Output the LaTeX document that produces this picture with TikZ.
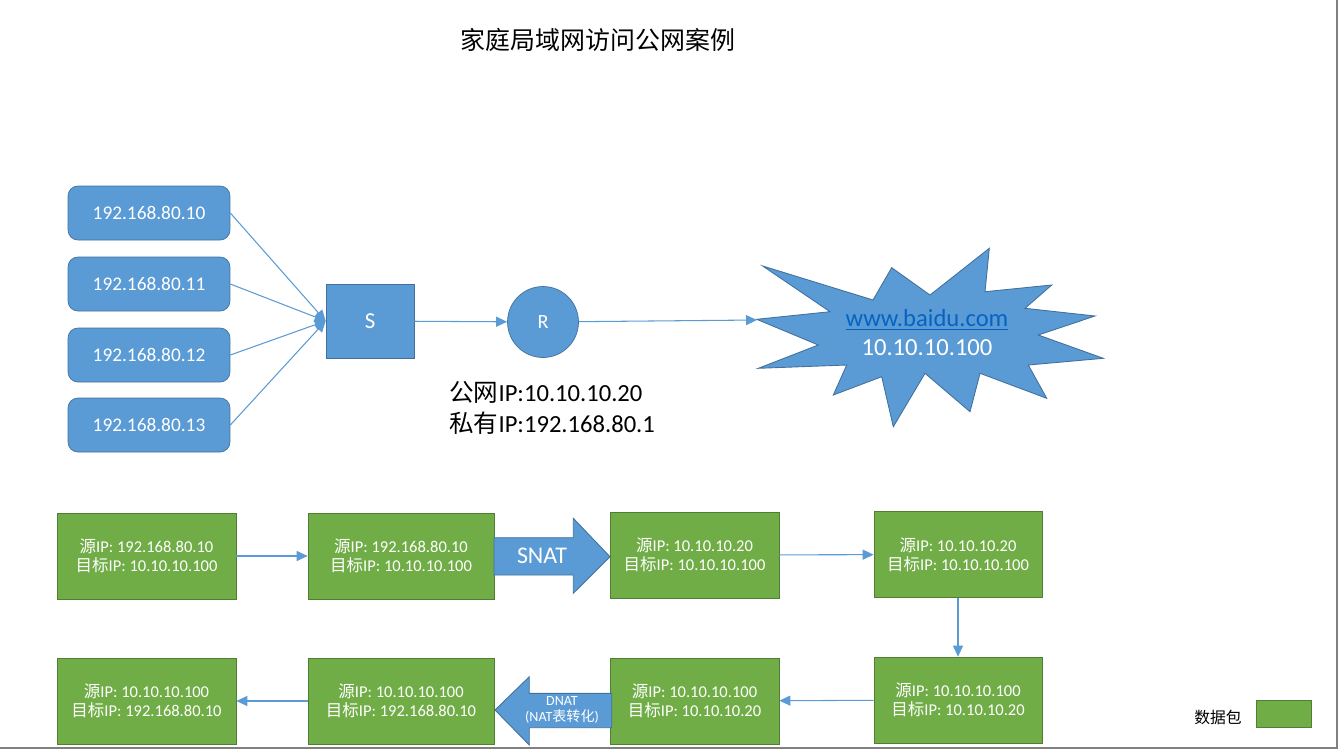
\documentclass[tikz,border=0pt]{standalone}
\usepackage{fontspec}
\setmainfont{Carlito}
\newfontfamily\cjk{Noto Sans CJK SC}
\usetikzlibrary{arrows.meta,positioning}

\definecolor{nodeblue}{HTML}{5B9BD5}
\definecolor{edgeblue}{HTML}{41719C}
\definecolor{pktgreen}{HTML}{70AD47}
\definecolor{pktedge}{HTML}{507E32}
\definecolor{linkblue}{HTML}{0563C1}

\tikzset{
	host/.style={draw=edgeblue, fill=nodeblue, rounded corners=0.2cm, minimum width=3.24cm, minimum height=1.08cm, text=white, font=\fontsize{11}{13}\selectfont},
	switchbox/.style={draw=edgeblue, fill=nodeblue, minimum width=1.76cm, minimum height=1.48cm, text=white, font=\fontsize{13}{15}\selectfont},
	router/.style={draw=edgeblue, fill=nodeblue, circle, minimum size=1.42cm, inner sep=0pt, text=white, font=\fontsize{11.5}{13}\selectfont},
	pkt/.style={draw=pktedge, fill=pktgreen, minimum height=1.72cm, align=center, text=white, font=\fontsize{9.4}{10.8}\selectfont},
	link/.style={draw=nodeblue, line width=0.6pt, -{Triangle[length=2.2mm, width=2mm]}},
	bigarrow/.style={draw=edgeblue, fill=nodeblue, line width=0.5pt}
}

\begin{document}
\begin{tikzpicture}[x=0.02cm, y=-0.02cm]
	\useasboundingbox (0,0) rectangle (1338,751);
	\draw[gray, line width=1pt] (1337,0) -- (1337,748) -- (0,748);

	% title
	\node[font=\cjk\fontsize{14.2}{16}\selectfont] (title) at (598,40) {家庭局域网访问公网案例};

	% hosts, switch and router
	\node[host] (h0) at (149,213) {192.168.80.10};
	\node[host] (h1) at (149,284) {192.168.80.11};
	\node[host] (h2) at (149,355) {192.168.80.12};
	\node[host] (h3) at (149,425) {192.168.80.13};
	\node[switchbox] (S) at (370,321) {S};
	\node[router] (R) at (543,322) {R};
	\foreach \i in {0,...,3}
		\draw[link] (h\i.east) -- (S.west);
	\draw[link] (S) -- (R);
	\node[anchor=north west, align=left, inner sep=0pt, font=\fontsize{14}{17.6}\selectfont] (rinfo) at (449,381)
		{{\cjk 公网}IP:10.10.10.20\\{\cjk 私有}IP:192.168.80.1};

	% internet
	\draw[draw=edgeblue, fill=nodeblue, line width=0.5pt]
		(762.7,266) -- (873,300) -- (891.7,267.7) -- (930,295) -- (989.3,248.3) -- (985,291.7)
		-- (1051.7,285) -- (1025,308.3) -- (1095,316) -- (1038.3,335) -- (1103.3,358.3)
		-- (1028.3,365) -- (1046.7,398.3) -- (980,373.3) -- (970,411.7) -- (925,373.3)
		-- (893.3,426.7) -- (881.7,376.7) -- (833.3,395) -- (846.7,365) -- (758.3,368.3)
		-- (818.3,345) -- (756.7,319.3) -- (830,311.7) -- cycle;
	\coordinate (web) at (757,320);
	\node[align=center, font=\fontsize{14}{16.5}\selectfont] (site) at (927,333)
		{\textcolor{linkblue}{\underline{www.baidu.com}}\\\textcolor{white}{10.10.10.100}};
	\draw[link] (R) -- (web);

	% packets, request
	\node[pkt, minimum width=3.58cm] (p1) at (146.5,556) {{\cjk 源}IP: 192.168.80.10\\{\cjk 目标}IP: 10.10.10.100};
	\node[pkt, minimum width=3.72cm] (p2) at (401,556) {{\cjk 源}IP: 192.168.80.10\\{\cjk 目标}IP: 10.10.10.100};
	\node[pkt, minimum width=3.38cm] (p3) at (694.5,555) {{\cjk 源}IP: 10.10.10.20\\{\cjk 目标}IP: 10.10.10.100};
	\node[pkt, minimum width=3.36cm] (p4) at (958,554.5) {{\cjk 源}IP: 10.10.10.20\\{\cjk 目标}IP: 10.10.10.100};

	% packets, reply
	\node[pkt, minimum width=3.58cm] (q1) at (146.5,701) {{\cjk 源}IP: 10.10.10.100\\{\cjk 目标}IP: 192.168.80.10};
	\node[pkt, minimum width=3.72cm] (q2) at (401,701) {{\cjk 源}IP: 10.10.10.100\\{\cjk 目标}IP: 192.168.80.10};
	\node[pkt, minimum width=3.38cm] (q3) at (694.5,701) {{\cjk 源}IP: 10.10.10.100\\{\cjk 目标}IP: 10.10.10.20};
	\node[pkt, minimum width=3.36cm] (q4) at (958,700) {{\cjk 源}IP: 10.10.10.100\\{\cjk 目标}IP: 10.10.10.20};

	\draw[link] (p1) -- (p2);
	\draw[link] (p3) -- (p4);
	\draw[link] (p4) -- (q4);
	\draw[link] (q4) -- (q3);
	\draw[link] (q2) -- (q1);

	% nat arrows
	\draw[bigarrow] (494,537.7) -- (573.3,537.7) -- (573.3,518.3) -- (610,556.7) -- (573.3,593.3) -- (573.3,575) -- (494,575) -- cycle;
	\node[text=white, font=\fontsize{13.6}{15}\selectfont] (snat) at (542,556) {SNAT};
	\draw[bigarrow] (611.7,693.3) -- (529.3,693.3) -- (529.3,676.7) -- (495,710) -- (529.3,745) -- (529.3,727.7) -- (611.7,727.7) -- cycle;
	\node[align=center, inner sep=0pt, text=white, font=\fontsize{8}{9}\selectfont] (dnat) at (562,710)
		{DNAT\\(NAT{\cjk 表转化})};

	% legend
	\node[font=\cjk\fontsize{9}{11}\selectfont] (legtext) at (1218,717) {数据包};
	\node[draw=pktedge, fill=pktgreen, minimum width=1.1cm, minimum height=0.54cm] (legbox) at (1283.5,713.5) {};
\end{tikzpicture}
\end{document}
